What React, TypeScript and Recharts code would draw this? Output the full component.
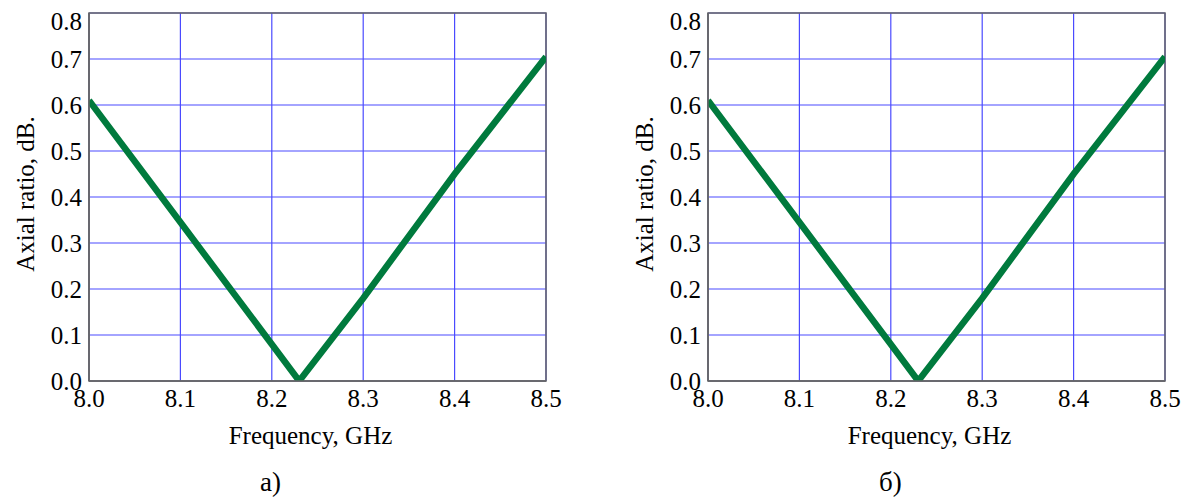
import React from 'react';
import { LineChart, Line, XAxis, YAxis, CartesianGrid, ReferenceArea, Label } from 'recharts';

// frequency points, GHz
const frequency = [8.0, 8.1, 8.2, 8.23, 8.3, 8.4, 8.5];
// axial ratio, dB (panel а)
const axialRatioA = [0.61, 0.345, 0.08, 0.0, 0.18, 0.45, 0.705];
// axial ratio, dB (panel б)
const axialRatioB = [0.61, 0.345, 0.08, 0.0, 0.18, 0.45, 0.705];

const xTicks = [8.0, 8.1, 8.2, 8.3, 8.4, 8.5];
const yTicks = [0.0, 0.1, 0.2, 0.3, 0.4, 0.5, 0.6, 0.7, 0.8];

const FONT = 'Liberation Serif, serif';
const FS = 25;
const GRID = '#4a4aff';
const FRAME = '#666666';
const GREEN = '#007a3d';

function XTick({ x, y, payload }: any) {
  return (
    <text x={x} y={y + 18} textAnchor="middle" fontFamily={FONT} fontSize={FS} fill="#000">
      {Number(payload.value).toFixed(1)}
    </text>
  );
}

function YTick({ x, y, payload }: any) {
  // the top label sits a bit lower than its gridline, as in the original
  const shift = payload.value >= 0.8 ? 8 : 0;
  return (
    <text x={x + 1} y={y + shift} textAnchor="end" dominantBaseline="central"
      fontFamily={FONT} fontSize={FS} fill="#000">
      {Number(payload.value).toFixed(1)}
    </text>
  );
}

function YTitle({ viewBox }: any) {
  const cx = 25;
  const cy = viewBox.y + viewBox.height / 2 - 3;
  return (
    <text x={cx} y={cy} transform={`rotate(-90 ${cx} ${cy})`} textAnchor="middle"
      dominantBaseline="central" fontFamily={FONT} fontSize={FS} fill="#000">
      Axial ratio, dB.
    </text>
  );
}

function XTitle({ viewBox }: any) {
  const cx = viewBox.x + viewBox.width / 2 - 7;
  return (
    <text x={cx} y={444} textAnchor="middle" fontFamily={FONT} fontSize={FS} fill="#000">
      Frequency, GHz
    </text>
  );
}

function Panel({ values }: { values: number[] }) {
  const data = frequency.map((f, i) => ({ f, ar: values[i] }));
  return (
    <LineChart width={565} height={460} data={data} margin={{ top: 13, right: 19, bottom: 30, left: 0 }}>
      <CartesianGrid stroke={GRID} strokeWidth={1.2} />
      <XAxis dataKey="f" type="number" domain={[8.0, 8.5]} ticks={xTicks} allowDataOverflow
        height={49} tickLine={false} axisLine={{ stroke: FRAME, strokeWidth: 1.5 }}
        tick={<XTick />} interval={0}>
        <Label content={<XTitle />} />
      </XAxis>
      <YAxis type="number" domain={[0, 0.8]} ticks={yTicks} allowDataOverflow
        width={89} tickLine={false} axisLine={{ stroke: FRAME, strokeWidth: 1.5 }}
        tick={<YTick />} interval={0}>
        <Label content={<YTitle />} />
      </YAxis>
      <ReferenceArea x1={8.0} x2={8.5} y1={0} y2={0.8} fill="none" stroke={FRAME} strokeWidth={1.5} />
      <Line type="linear" dataKey="ar" stroke={GREEN} strokeWidth={6.5} dot={false}
        isAnimationActive={false} />
    </LineChart>
  );
}

export default function App() {
  const caption: React.CSSProperties = {
    position: 'absolute', top: 469, fontFamily: FONT, fontSize: 27, lineHeight: 1, color: '#000',
  };
  return (
    <div style={{ position: 'absolute', left: 0, top: 0, width: 1184, height: 501, background: '#fff', overflow: 'hidden' }}>
      <div style={{ position: 'absolute', left: 0, top: 0 }}>
        <Panel values={axialRatioA} />
      </div>
      <div style={{ position: 'absolute', left: 619, top: 0 }}>
        <Panel values={axialRatioB} />
      </div>
      <div style={{ ...caption, left: 260 }}>а)</div>
      <div style={{ ...caption, left: 879 }}>б)</div>
    </div>
  );
}
